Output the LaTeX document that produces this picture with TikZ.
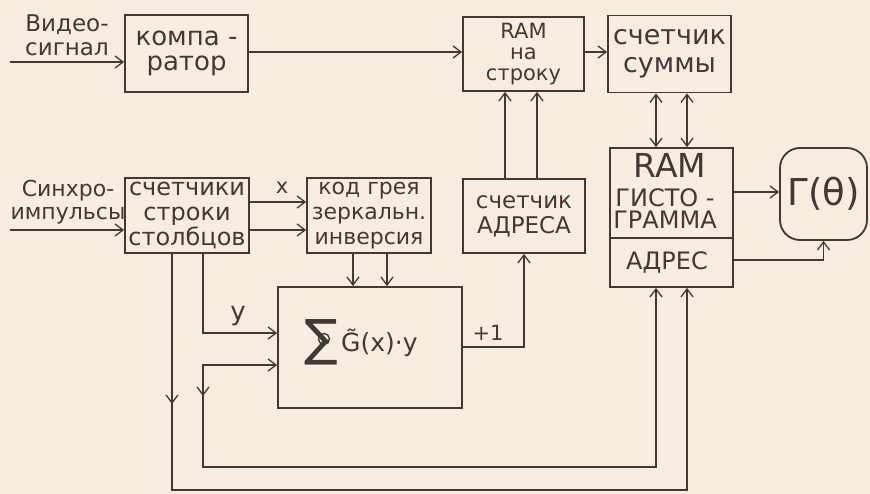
\documentclass[tikz,border=0pt]{standalone}
\usepackage{fontspec}
\setmainfont{DejaVu Sans}
\usetikzlibrary{arrows.meta,calc}
\definecolor{paper}{RGB}{249,236,225}
\definecolor{ink}{RGB}{64,58,55}
\tikzset{
  blk/.style={draw=ink, line width=1.8pt, inner sep=0pt, align=center, text=ink},
  tipb/.tip={Straight Barb[length=8pt,width=12pt,line width=1.3pt]},
  arr/.style={draw=ink, line width=1.4pt, -tipb},
  arrtwo/.style={draw=ink, line width=1.4pt, tipb-tipb},
  lbl/.style={text=ink, inner sep=0pt, align=center},
}
\begin{document}
\begin{tikzpicture}[x=1pt,y=-1pt]
\useasboundingbox (0,0) rectangle (870,494);
\fill[paper] (0,0) rectangle (870,494);

% blocks
\node[blk, minimum width=123pt, minimum height=77pt, font=\fontsize{26}{25}\selectfont] (comp) at (186.5,53.5) {компа -\\ратор};
\node[blk, minimum width=121pt, minimum height=74pt, font=\fontsize{21}{21}\selectfont] (ramstr) at (523.5,54) {RAM\\на\\строку};
\node[blk, minimum width=123pt, minimum height=77pt, font=\fontsize{27}{28}\selectfont] (sumc) at (669.5,54) {счетчик\\суммы};
\node[blk, minimum width=123pt, minimum height=139pt] (ramh) at (671.5,217.5) {\phantom{A}};
\node[blk, rounded corners=20pt, minimum width=87pt, minimum height=92pt, font=\fontsize{37}{37}\selectfont] (gam) at (823.5,194) {Γ(θ)};
\node[blk, minimum width=124pt, minimum height=75pt, font=\fontsize{24}{25}\selectfont] (cnt) at (187,215.5) {счетчики\\строки\\столбцов};
\node[blk, minimum width=124pt, minimum height=75pt, font=\fontsize{22}{25}\selectfont] (grey) at (369,215.5) {код грея\\зеркальн.\\инверсия};
\node[blk, minimum width=122pt, minimum height=74pt, font=\fontsize{23}{25}\selectfont] (adrc) at (524,216) {счетчик\\АДРЕСА};
\node[blk, minimum width=184pt, minimum height=121pt] (sig) at (370,347.5) {\phantom{A}};

% texts inside RAM histogram
\draw[ink, line width=1.8pt] (ramh.west |- 0,238) -- (ramh.east |- 0,238);
\node[lbl, font=\fontsize{33}{33}\selectfont] (tram) at (670,165) {RAM};
\node[lbl, font=\fontsize{24}{22}\selectfont] (tgist) at (665,209) {ГИСТО -\\ГРАММА};
\node[lbl, font=\fontsize{24}{24}\selectfont] (tadr) at (667,262) {АДРЕС};

% text inside sum block
\node[lbl, font=\fontsize{50}{50}\selectfont] (tsum) at (321,342) {∑};
\draw[ink, line width=1.4pt] (324,339) circle (5.5pt);
\fill[ink] (324,339) circle (1.3pt);
\node[lbl, anchor=west, font=\fontsize{25}{25}\selectfont] (tg) at (341,343) {G̃(x)·y};

% input labels
\node[lbl, font=\fontsize{23}{24}\selectfont] (vid) at (67,35) {Видео-\\сигнал};
\node[lbl, font=\fontsize{22}{23}\selectfont] (sync) at (68,202) {Синхро-\\импульсы};
\node[lbl, font=\fontsize{21}{21}\selectfont] (lx) at (282,188) {x};
\node[lbl, font=\fontsize{26}{26}\selectfont] (ly) at (238,316) {y};
\node[lbl, font=\fontsize{21}{21}\selectfont] (lp) at (488,333) {+1};

% connectors
\coordinate (vin) at (10,62);
\draw[arr] (vin) -- (vin -| comp.west);
\draw[arr] (comp.east |- 0,52) -- (ramstr.west |- 0,52);
\draw[arr] (ramstr.east |- 0,52) -- (sumc.west |- 0,52);
\draw[arrtwo] (sumc.south -| 656,0) -- (ramh.north -| 656,0);
\draw[arrtwo] (sumc.south -| 687,0) -- (ramh.north -| 687,0);
\draw[arr] (ramh.east |- 0,192) -- (gam.west |- 0,192);
\draw[arr] (ramh.east |- 0,260) -| (gam.south);

\coordinate (sin) at (10,230);
\draw[arr] (sin) -- (sin -| cnt.west);
\draw[arr] (cnt.east |- 0,202) -- (grey.west |- 0,202);
\draw[arr] (cnt.east |- 0,230) -- (grey.west |- 0,230);
\draw[arr] (grey.south -| 353,0) -- (sig.north -| 353,0);
\draw[arr] (grey.south -| 387,0) -- (sig.north -| 387,0);

\draw[arr] (adrc.north -| 505,0) -- (ramstr.south -| 505,0);
\draw[arr] (adrc.north -| 537,0) -- (ramstr.south -| 537,0);
\draw[arr] (sig.east |- 0,347) -| (adrc.south);

\draw[arr] (cnt.south -| 203,0) |- (sig.west |- 0,333);
\draw[arrtwo] (ramh.south -| 656,0) |- (203,467) |- (sig.west |- 0,365);
\draw[arr] (cnt.south -| 172,0) |- (687,490) -- (ramh.south -| 687,0);

% mid-line arrow marks
\coordinate (ma1) at (172,390);
\coordinate (ma2) at (172,404);
\coordinate (mb1) at (203,382);
\coordinate (mb2) at (203,396);
\draw[arr] (ma1) -- (ma2);
\draw[arr] (mb1) -- (mb2);
\end{tikzpicture}
\end{document}
